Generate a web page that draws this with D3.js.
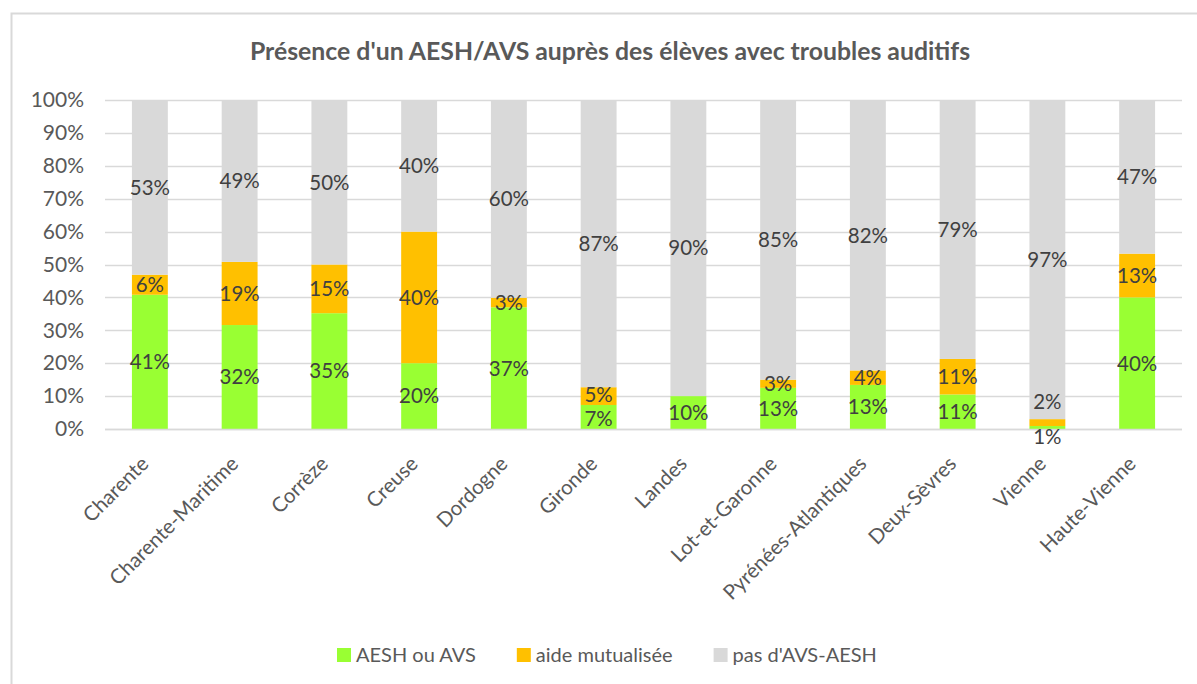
<!DOCTYPE html>
<html><head><meta charset="utf-8">
<script src="https://cdn.jsdelivr.net/npm/d3@7"></script>
<style>
body{margin:0;background:#fff;}
svg{display:block;font-family:Lato,"Open Sans",sans-serif;}
</style></head>
<body><svg id="c" width="1197" height="684"></svg>
<script>
const categories = ["Charente","Charente-Maritime","Corrèze","Creuse","Dordogne","Gironde","Landes","Lot-et-Garonne","Pyrénées-Atlantiques","Deux-Sèvres","Vienne","Haute-Vienne"];
const seriesNames = ["AESH ou AVS","aide mutualisée","pas d'AVS-AESH"];
const aesh = [40.8, 31.6, 35.2, 20, 37, 7.3, 10, 12.5, 13.4, 10.5, 0.9, 40];
const mutualisee = [6.1, 19.2, 14.8, 40, 2.9, 5.4, 0, 2.5, 4.4, 10.8, 2.1, 13.3];
const pas = [53.1, 49.2, 50, 40, 60.1, 87.3, 90, 85, 82.2, 78.7, 97, 46.7];
const yTicks = [0,10,20,30,40,50,60,70,80,90,100];
const colors = ["#99FF33","#FFC000","#D9D9D9"];
// manual label nudges for tiny segments (pixels), keyed "series|category"
const labelNudge = {"0|Vienne": 9, "1|Vienne": -21, "0|Gironde": 2, "1|Gironde": -1};

const FONT = "Lato,'Open Sans',sans-serif";
const svg = d3.select("#c");
svg.append("rect").attr("x",11.5).attr("y",13.5).attr("width",1200).attr("height",700)
  .attr("fill","#fff").attr("stroke","#D9D9D9").attr("stroke-width",2);

const margin = {left:105, right:1182, top:100, bottom:429};
const x = d3.scaleBand().domain(categories).range([margin.left, margin.right]).paddingInner(0.6).paddingOuter(0.3);
const y = d3.scaleLinear().domain([0,100]).range([margin.bottom, margin.top]);

svg.append("text").attr("x",610).attr("y",60).attr("text-anchor","middle")
  .attr("font-size",24.8).attr("font-weight","bold").attr("fill","#595959")
  .text("Présence d'un AESH/AVS auprès des élèves avec troubles auditifs");

// grid
const grid = svg.append("g");
grid.selectAll("line").data(yTicks).join("line")
  .attr("x1",margin.left).attr("x2",margin.right)
  .attr("y1",d=>Math.round(y(d))+0.5).attr("y2",d=>Math.round(y(d))+0.5)
  .attr("stroke","#D9D9D9").attr("stroke-width",1.3);

// y axis labels
const yAxis = d3.axisLeft(y).tickValues(yTicks).tickFormat(d=>d+"%").tickSize(0).tickPadding(0);
const ya = svg.append("g").attr("transform",`translate(84,0)`).call(yAxis);
ya.select(".domain").remove();
ya.selectAll("text").attr("font-size",21).attr("fill","#595959").attr("font-family",FONT);

// stack
const rows = categories.map((c,i)=>({cat:c, s0:aesh[i], s1:mutualisee[i], s2:pas[i]}));
const stack = d3.stack().keys(["s0","s1","s2"])(rows);
const gBars = svg.append("g");
stack.forEach((layer,li)=>{
  gBars.selectAll(null).data(layer).join("rect")
    .attr("x",d=>x(d.data.cat)).attr("width",x.bandwidth())
    .attr("y",d=>y(d[1])).attr("height",d=>y(d[0])-y(d[1]))
    .attr("fill",colors[li]);
});
// x axis baseline
svg.append("line").attr("x1",margin.left).attr("x2",margin.right)
  .attr("y1",margin.bottom+0.5).attr("y2",margin.bottom+0.5).attr("stroke","#D9D9D9").attr("stroke-width",1.3);

// labels
stack.forEach((layer,li)=>{
  svg.append("g").selectAll("text").data(layer.filter(d=>d[1]-d[0]>0)).join("text")
    .attr("x",d=>x(d.data.cat)+x.bandwidth()/2)
    .attr("y",d=>(y(d[0])+y(d[1]))/2 + (labelNudge[li+"|"+d.data.cat]||0))
    .attr("dy","0.36em").attr("text-anchor","middle")
    .attr("font-size",20.5).attr("fill","#404040")
    .text(d=>Math.round(d[1]-d[0])+"%");
});

const xAxis = d3.axisBottom(x).tickSize(0).tickPadding(0);
const xa = svg.append("g").attr("transform",`translate(0,${margin.bottom})`).call(xAxis);
xa.select(".domain").remove();
xa.selectAll("text").attr("font-size",20.5).attr("fill","#595959").attr("font-family",FONT)
  .attr("text-anchor","end").attr("dy",0).attr("y",0)
  .attr("transform","translate(0,36) rotate(-45)");

// legend
const leg = svg.append("g");
let lx = 337;
seriesNames.forEach((n,i)=>{
  leg.append("rect").attr("x",lx).attr("y",648).attr("width",14).attr("height",14).attr("fill",colors[i]);
  const t = leg.append("text").attr("x",lx+19).attr("y",655).attr("dy","0.36em").attr("font-size",20).attr("fill","#595959").text(n);
  lx += 19 + t.node().getComputedTextLength() + 41;
});
</script></body></html>
